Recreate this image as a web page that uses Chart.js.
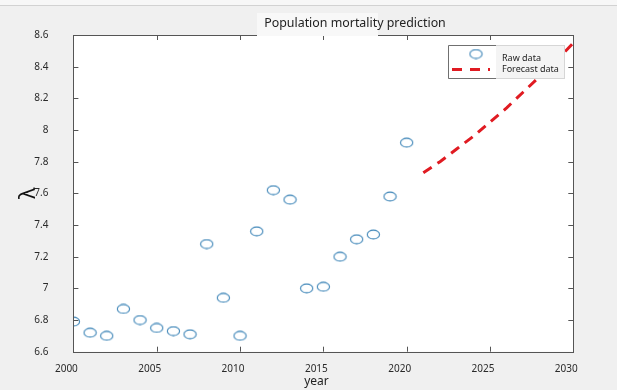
<!DOCTYPE html>
<html>
<head>
<meta charset="utf-8">
<script src="https://cdn.jsdelivr.net/npm/chart.js@4"></script>
<style>
  html, body { margin: 0; padding: 0; background: #f0f0f0; }
  #c { display: block; }
</style>
</head>
<body>
<canvas id="c" width="617" height="390"></canvas>
<script>
// Observed mortality parameter per year
const rawYears  = [2000, 2001, 2002, 2003, 2004, 2005, 2006, 2007, 2008, 2009, 2010,
                   2011, 2012, 2013, 2014, 2015, 2016, 2017, 2018, 2019, 2020];
const rawValues = [6.79, 6.72, 6.70, 6.87, 6.80, 6.75, 6.73, 6.71, 7.28, 6.94, 6.70,
                   7.36, 7.62, 7.56, 7.00, 7.01, 7.20, 7.31, 7.34, 7.58, 7.92];

// Model forecast
const forecastYears  = [2021, 2022, 2023, 2024, 2025, 2026, 2027, 2028, 2029, 2030];
const forecastValues = [7.73, 7.80, 7.88, 7.96, 8.05, 8.14, 8.24, 8.34, 8.44, 8.55];

// Axis ticks
const xTicks = [2000, 2005, 2010, 2015, 2020, 2025, 2030];
const yTicks = [6.6, 6.8, 7.0, 7.2, 7.4, 7.6, 7.8, 8.0, 8.2, 8.4, 8.6];

const titleText = 'Population mortality prediction';
const FONT = '"Noto Sans", "Open Sans", sans-serif';
const markerColor = '#3f86b8';
const forecastColor = '#e01b22';

// Open elliptical marker used for the raw observations
function makeMarker() {
  const m = document.createElement('canvas');
  m.width = 15; m.height = 11;
  const g = m.getContext('2d');
  g.strokeStyle = markerColor;
  g.lineWidth = 1.1;
  g.beginPath();
  g.ellipse(7.5, 5.5, 6.1, 4.4, 0, 0, Math.PI * 2);
  g.stroke();
  return m;
}
const marker = makeMarker();

const rawPoints = rawYears.map((x, i) => ({ x, y: rawValues[i] }));
const forecastPoints = forecastYears.map((x, i) => ({ x, y: forecastValues[i] }));

// Backgrounds, boxed axes with inward ticks, title and legend
const framePlugin = {
  id: 'frame',
  beforeDraw(chart) {
    const { ctx, chartArea: a, width } = chart;
    ctx.save();
    ctx.fillStyle = '#f0f0f0';
    ctx.fillRect(0, 0, width, chart.height);
    ctx.fillStyle = '#f7f7f7';
    ctx.fillRect(0, 0, width, 5);
    ctx.fillStyle = '#d2d2d2';
    ctx.fillRect(0, 5, width, 1);
    ctx.fillStyle = '#ffffff';
    ctx.fillRect(a.left, a.top, a.right - a.left, a.bottom - a.top);
    ctx.restore();
  },
  afterDraw(chart) {
    const { ctx, chartArea: a } = chart;
    const xs = chart.scales.x, ys = chart.scales.y;
    ctx.save();
    ctx.strokeStyle = '#555555';
    ctx.lineWidth = 1;
    ctx.strokeRect(Math.round(a.left) + 0.5, Math.round(a.top) + 0.5,
                   Math.round(a.right - a.left), Math.round(a.bottom - a.top));
    ctx.beginPath();
    const tl = 5;
    xTicks.forEach(v => {
      const px = Math.round(xs.getPixelForValue(v)) + 0.5;
      ctx.moveTo(px, a.bottom); ctx.lineTo(px, a.bottom - tl);
      ctx.moveTo(px, a.top); ctx.lineTo(px, a.top + tl);
    });
    yTicks.forEach(v => {
      const py = Math.round(ys.getPixelForValue(v)) + 0.5;
      ctx.moveTo(a.left, py); ctx.lineTo(a.left + tl, py);
      ctx.moveTo(a.right, py); ctx.lineTo(a.right - tl, py);
    });
    ctx.stroke();

    // title band
    ctx.fillStyle = '#f8f8f8';
    ctx.fillRect(257, 13, 121, a.top - 12);
    ctx.fillStyle = '#222222';
    ctx.font = '12.4px ' + FONT;
    ctx.textAlign = 'center';
    ctx.textBaseline = 'middle';
    ctx.fillText(titleText, 355, 23.5);

    // x axis caption
    ctx.font = '12px ' + FONT;
    ctx.fillText('year', 316.5, 381.5);

    // legend
    const lx = 448, ly = 45, lw = 116, lh = 33, sw = 48;
    ctx.fillStyle = '#f4f4f4';
    ctx.fillRect(lx, ly, lw, lh);
    ctx.strokeStyle = '#d6d6d6';
    ctx.strokeRect(lx + 0.5, ly + 0.5, lw, lh);
    ctx.fillStyle = '#ffffff';
    ctx.fillRect(lx, ly, sw, lh);
    ctx.strokeStyle = '#707070';
    ctx.beginPath();
    ctx.moveTo(lx + sw, ly + 0.5); ctx.lineTo(lx + 0.5, ly + 0.5);
    ctx.lineTo(lx + 0.5, ly + lh + 0.5); ctx.lineTo(lx + sw, ly + lh + 0.5);
    ctx.stroke();
    const ds = chart.data.datasets;
    ctx.drawImage(marker, 476 - 7.5, 54 - 5.5);
    ctx.strokeStyle = forecastColor;
    ctx.lineWidth = 3;
    ctx.setLineDash([10, 8]);
    ctx.beginPath();
    ctx.moveTo(452, 69.5); ctx.lineTo(490, 69.5);
    ctx.stroke();
    ctx.setLineDash([]);
    ctx.fillStyle = '#222222';
    ctx.font = '9px ' + FONT;
    ctx.textAlign = 'left';
    ctx.fillText(ds[0].label, 502, 58);
    ctx.fillText(ds[1].label, 502, 69.5);
    ctx.restore();
  }
};

new Chart(document.getElementById('c'), {
  type: 'scatter',
  data: {
    datasets: [
      {
        label: 'Raw data',
        data: rawPoints,
        pointStyle: marker,
        pointRadius: 6,
        showLine: false,
        clip: { left: 0, top: 0, right: 0, bottom: 0 },
        order: 1
      },
      {
        label: 'Forecast data',
        data: forecastPoints,
        showLine: true,
        pointRadius: 0,
        borderColor: forecastColor,
        borderWidth: 3,
        borderDash: [10, 7],
        tension: 0,
        fill: false,
        clip: 2,
        order: 0
      }
    ]
  },
  options: {
    responsive: false,
    animation: false,
    devicePixelRatio: 1,
    layout: { padding: { top: 35, right: 43.7, left: 0, bottom: 0 } },
    plugins: {
      legend: { display: false },
      title: { display: false },
      tooltip: { enabled: false }
    },
    scales: {
      x: {
        type: 'linear',
        min: 2000, max: 2030,
        grid: { display: false },
        border: { display: false },
        afterBuildTicks(s) { s.ticks = xTicks.map(v => ({ value: v })); },
        afterFit(s) { s.height = 38.3; },
        ticks: {
          color: '#2a2a2a',
          font: { family: FONT, size: 10 },
          padding: 3,
          labelOffset: -7,
          maxRotation: 0,
          callback: v => String(v)
        }
      },
      y: {
        type: 'linear',
        min: 6.6, max: 8.6,
        grid: { display: false },
        border: { display: false },
        afterBuildTicks(s) { s.ticks = yTicks.map(v => ({ value: v })); },
        afterFit(s) { s.width = 73.4; },
        title: {
          display: true,
          text: 'λ',
          color: '#111111',
          font: { family: FONT, size: 22 },
          padding: { top: 16, bottom: 0 }
        },
        ticks: {
          color: '#2a2a2a',
          font: { family: FONT, size: 10 },
          padding: 17,
          callback: v => String(Number(v.toFixed(1)))
        }
      }
    }
  },
  plugins: [framePlugin]
});
</script>
</body>
</html>
